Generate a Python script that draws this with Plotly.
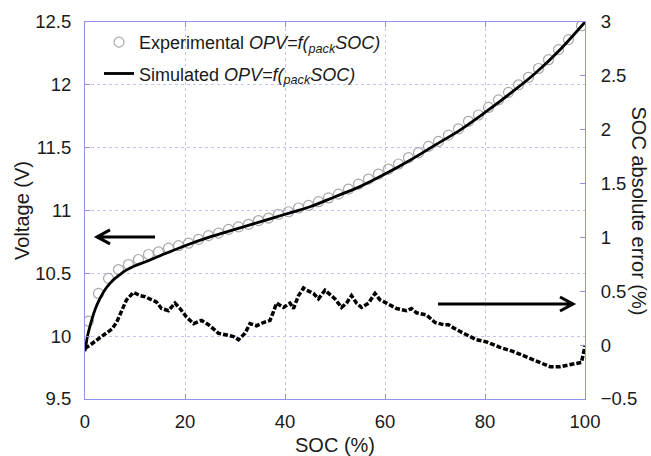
import plotly.graph_objects as go

# Simulated OPV = f(pack SOC)
sim_soc = [0, 0.5, 1, 2, 3, 4, 5, 6, 7, 8, 10, 12, 15, 20, 25, 30, 35, 40, 45, 50,
           55, 60, 65, 70, 75, 80, 85, 90, 95, 100]
sim_v = [9.88, 10.00, 10.08, 10.21, 10.30, 10.37, 10.42, 10.46, 10.49, 10.52, 10.56,
         10.59, 10.64, 10.72, 10.79, 10.85, 10.91, 10.97, 11.03, 11.11, 11.19, 11.29,
         11.40, 11.52, 11.64, 11.78, 11.93, 12.09, 12.28, 12.50]

# Experimental OPV = f(pack SOC)
exp_soc = [0.7, 2.7, 4.7, 6.7, 8.7, 10.7, 12.7, 14.7, 16.7, 18.7, 20.7, 22.7, 24.7,
           26.7, 28.7, 30.7, 32.7, 34.7, 36.7, 38.7, 40.7, 42.7, 44.7, 46.7, 48.7,
           50.7, 52.7, 54.7, 56.7, 58.7, 60.7, 62.7, 64.7, 66.7, 68.7, 70.7, 72.7,
           74.7, 76.7, 78.7, 80.7, 82.7, 84.7, 86.7, 88.7, 90.7, 92.7, 94.7, 96.7, 99.3]
exp_v = [10.12, 10.34, 10.46, 10.53, 10.57, 10.61, 10.65, 10.67, 10.70, 10.72, 10.74,
         10.77, 10.80, 10.82, 10.85, 10.87, 10.89, 10.92, 10.94, 10.97, 10.99, 11.02,
         11.04, 11.07, 11.10, 11.13, 11.17, 11.21, 11.25, 11.29, 11.33, 11.37, 11.42,
         11.46, 11.51, 11.55, 11.60, 11.65, 11.71, 11.76, 11.82, 11.88, 11.94, 12.00,
         12.06, 12.13, 12.20, 12.28, 12.36, 12.47]

# SOC absolute error (%)
err_soc = [0, 1, 3, 5.4, 6.3, 7.4, 8.3, 9.7, 11, 12, 13, 14.3, 15.3, 16.7, 18, 19,
           20.3, 21.7, 23.3, 24.7, 26.7, 28.3, 29.7, 30.7, 32, 33, 34.3, 35.7, 37,
           37.7, 38.3, 39.7, 41, 41.7, 42.7, 43.7, 44.3, 45.7, 46.7, 48, 50, 51.3,
           52.3, 53.3, 54.3, 55.3, 56.7, 58, 59, 60.3, 62.3, 64.3, 65.3, 66.3, 68.3,
           70, 71.7, 72.7, 73.7, 75.7, 78.3, 80.3, 83, 85.7, 88.3, 91, 93, 95, 97,
           99.3, 99.8, 100]
err_val = [-0.03, 0.0, 0.07, 0.15, 0.21, 0.32, 0.42, 0.49, 0.46, 0.45, 0.43, 0.40,
           0.34, 0.32, 0.39, 0.34, 0.26, 0.20, 0.23, 0.19, 0.11, 0.09, 0.08, 0.05,
           0.11, 0.20, 0.18, 0.21, 0.23, 0.31, 0.39, 0.35, 0.39, 0.34, 0.46, 0.53,
           0.51, 0.48, 0.43, 0.51, 0.43, 0.35, 0.39, 0.46, 0.39, 0.35, 0.39, 0.48,
           0.42, 0.39, 0.34, 0.32, 0.34, 0.30, 0.28, 0.21, 0.19, 0.19, 0.16, 0.11,
           0.05, 0.03, -0.02, -0.06, -0.11, -0.17, -0.20, -0.20, -0.18, -0.16, -0.05,
           0.0]

x_ticks = [0, 20, 40, 60, 80, 100]
yl_ticks = [9.5, 10, 10.5, 11, 11.5, 12, 12.5]
yr_ticks = [-0.5, 0, 0.5, 1, 1.5, 2, 2.5, 3]

FONT = "Liberation Sans, Arial, sans-serif"
FRAME = "#9090e4"
GRID = "#c4c4f0"
TXT = "#1a1a1a"

fig = go.Figure()
fig.add_trace(go.Scatter(
    x=exp_soc, y=exp_v, mode="markers",
    name="Experimental <i>OPV=f(<sub>pack</sub>SOC)</i>",
    marker=dict(symbol="circle-open", size=10, color="#a8a8a8", line=dict(width=1.2)),
    legendgroup="a",
))
fig.add_trace(go.Scatter(
    x=sim_soc, y=sim_v, mode="lines", line_shape="spline",
    name="Simulated <i>OPV=f(<sub>pack</sub>SOC)</i>",
    line=dict(color="black", width=2.8),
    legendgroup="b",
))
fig.add_trace(go.Scatter(
    x=err_soc, y=err_val, mode="lines", yaxis="y2", showlegend=False,
    line=dict(color="black", width=3.5, dash="5px,2px"),
))

# arrows
fig.add_shape(type="path", xref="x", yref="y", xsizemode="pixel", ysizemode="pixel",
              xanchor=2.4, yanchor=10.79,
              path="M 58,0 L 0,0 M 13,7 L 0,0 L 13,-7",
              line=dict(color="black", width=3))
fig.add_shape(type="path", xref="x", yref="y", xsizemode="pixel", ysizemode="pixel",
              xanchor=97.6, yanchor=10.256,
              path="M -135,0 L 0,0 M -13,7 L 0,0 L -13,-7",
              line=dict(color="black", width=3))

fig.add_annotation(text="SOC absolute error (%)", xref="paper", yref="paper",
                   x=1.108, xanchor="center", y=0.5, textangle=90, showarrow=False,
                   font=dict(family=FONT, size=20, color=TXT))

axis_common = dict(
    showline=True, linecolor=FRAME, linewidth=1,
    ticks="inside", ticklen=5, tickcolor=FRAME,
    tickfont=dict(family=FONT, size=18.5, color=TXT),
    zeroline=False, automargin=False,
)

fig.update_layout(
    width=651, height=456,
    margin=dict(l=85, r=66, t=22, b=57),
    paper_bgcolor="white", plot_bgcolor="white",
    font=dict(family=FONT, color=TXT),
    showlegend=True,
    legend=dict(x=0.028, y=0.995, xanchor="left", yanchor="top",
                bgcolor="rgba(0,0,0,0)", font=dict(family=FONT, size=18, color=TXT),
                traceorder="grouped", tracegroupgap=5),
    xaxis=dict(range=[0, 100], tickvals=x_ticks, mirror="ticks",
               showgrid=True, gridcolor=GRID, griddash="dot", gridwidth=1,
               title=dict(text="SOC (%)", font=dict(family=FONT, size=20, color=TXT),
                          standoff=8),
               ticklabelstandoff=6,
               **axis_common),
    yaxis=dict(range=[9.5, 12.5], tickvals=yl_ticks, mirror=True,
               showgrid=True, gridcolor=GRID, griddash="dot", gridwidth=1,
               title=dict(text="Voltage (V)", font=dict(family=FONT, size=20, color=TXT),
                          standoff=0),
               ticklabelstandoff=9,
               **axis_common),
    yaxis2=dict(range=[-0.5, 3], tickvals=yr_ticks, overlaying="y", side="right",
                showgrid=False, ticklabelstandoff=11,
                **axis_common),
)

fig.write_html("out.html")
